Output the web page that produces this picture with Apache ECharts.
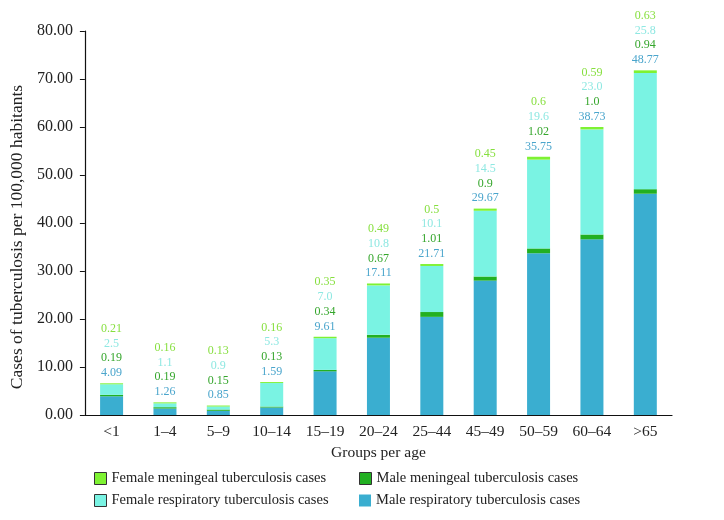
<!DOCTYPE html>
<html>
<head>
<meta charset="utf-8">
<script src="https://cdn.jsdelivr.net/npm/echarts@6/dist/echarts.min.js"></script>
<style>
html,body{margin:0;padding:0;background:#fff;}
#chart{width:724px;height:520px;}
</style>
</head>
<body>
<div id="chart"></div>
<script>
// Categories
var categories = ['<1','1–4','5–9','10–14','15–19','20–24','25–44','45–49','50–59','60–64','>65'];
// Bar heights as drawn in the picture (stacked, bottom to top)
var maleResp = [3.9, 1.35, 0.87, 1.56, 9.1, 16.1, 20.45, 28.0, 33.7, 36.6, 46.1];
var maleMen  = [0.3, 0.28, 0.27, 0.2, 0.3, 0.6, 1.0, 0.85, 1.0, 1.0, 0.95];
var femResp  = [2.2, 0.8, 0.63, 4.9, 6.6, 10.3, 9.6, 13.7, 18.5, 21.9, 24.2];
var femMen   = [0.2, 0.2, 0.2, 0.2, 0.3, 0.4, 0.4, 0.45, 0.6, 0.5, 0.55];
// Printed value labels above each bar
var femMenLbl   = ['0.21','0.16','0.13','0.16','0.35','0.49','0.5','0.45','0.6','0.59','0.63'];
var femRespLbl  = ['2.5','1.1','0.9','5.3','7.0','10.8','10.1','14.5','19.6','23.0','25.8'];
var maleMenLbl  = ['0.19','0.19','0.15','0.13','0.34','0.67','1.01','0.9','1.02','1.0','0.94'];
var maleRespLbl = ['4.09','1.26','0.85','1.59','9.61','17.11','21.71','29.67','35.75','38.73','48.77'];
// Y ticks
var yMin = 0, yMax = 80, yStep = 10;

var names = {
  fm: 'Female meningeal tuberculosis cases',
  mm: 'Male meningeal tuberculosis cases',
  fr: 'Female respiratory tuberculosis cases',
  mr: 'Male respiratory tuberculosis cases'
};
var colors = { mr: '#3aaed0', mm: '#22b022', fr: '#7af3e3', fm: '#7ef232' };
var FONT = 'Liberation Serif';

var chart = echarts.init(document.getElementById('chart'), null, {renderer: 'canvas'});
var barW = 23;
var legendText = { fontFamily: FONT, fontSize: 14.5, color: '#222' };

function leg(name, left, top, bordered) {
  return {
    left: left, top: top, itemWidth: 12, itemHeight: 12, itemGap: 0,
    icon: 'rect', textStyle: legendText, padding: 0,
    data: [ bordered ? { name: name, itemStyle: { borderColor: '#333', borderWidth: 1 } } : { name: name } ]
  };
}

chart.setOption({
  animation: false,
  textStyle: { fontFamily: FONT },
  grid: { left: 84, right: 52, top: 31, bottom: 105, containLabel: false },
  legend: [
    leg(names.fm, 94, 471, true),
    leg(names.fr, 94, 493, true),
    leg(names.mm, 359, 471, true),
    leg(names.mr, 359, 493, false)
  ],
  xAxis: {
    type: 'category',
    data: categories,
    name: 'Groups per age',
    nameLocation: 'middle',
    nameGap: 26,
    nameTextStyle: { fontFamily: FONT, fontSize: 15.5, color: '#222' },
    axisLine: { lineStyle: { color: '#111', width: 1.2 } },
    axisTick: { show: false },
    axisLabel: { fontFamily: FONT, fontSize: 15.5, color: '#222', margin: 9 },
    splitLine: { show: false }
  },
  yAxis: {
    type: 'value',
    min: yMin, max: yMax, interval: yStep,
    name: 'Cases of tuberculosis per 100,000 habitants',
    nameLocation: 'middle',
    nameGap: 52,
    nameRotate: 90,
    nameTextStyle: { fontFamily: FONT, fontSize: 17.5, color: '#222', padding: [0, 0, 0, -28] },
    axisLine: { show: true, lineStyle: { color: '#111', width: 1.2 } },
    axisTick: { show: true, length: 5, lineStyle: { color: '#111' } },
    axisLabel: { fontFamily: FONT, fontSize: 16, color: '#222', margin: 12,
      formatter: function (v) { return v.toFixed(2); } },
    splitLine: { show: false }
  },
  series: [
    { name: names.mr, type: 'bar', stack: 's', data: maleResp, barWidth: barW,
      itemStyle: { color: colors.mr } },
    { name: names.mm, type: 'bar', stack: 's', data: maleMen, barWidth: barW,
      itemStyle: { color: colors.mm } },
    { name: names.fr, type: 'bar', stack: 's', data: femResp, barWidth: barW,
      itemStyle: { color: colors.fr } },
    { name: names.fm, type: 'bar', stack: 's', data: femMen, barWidth: barW,
      itemStyle: { color: colors.fm },
      label: {
        show: true, position: 'top', distance: 3,
        formatter: function (p) {
          var i = p.dataIndex;
          return '{a|' + femMenLbl[i] + '}\n{b|' + femRespLbl[i] + '}\n{c|' + maleMenLbl[i] + '}\n{d|' + maleRespLbl[i] + '}';
        },
        rich: {
          a: { color: '#86df3e', fontFamily: FONT, fontSize: 12, lineHeight: 14.7 },
          b: { color: '#8fe8e2', fontFamily: FONT, fontSize: 12, lineHeight: 14.7 },
          c: { color: '#35a62c', fontFamily: FONT, fontSize: 12, lineHeight: 14.7 },
          d: { color: '#4aa5cc', fontFamily: FONT, fontSize: 12, lineHeight: 14.7 }
        }
      } }
  ]
});
</script>
</body>
</html>
